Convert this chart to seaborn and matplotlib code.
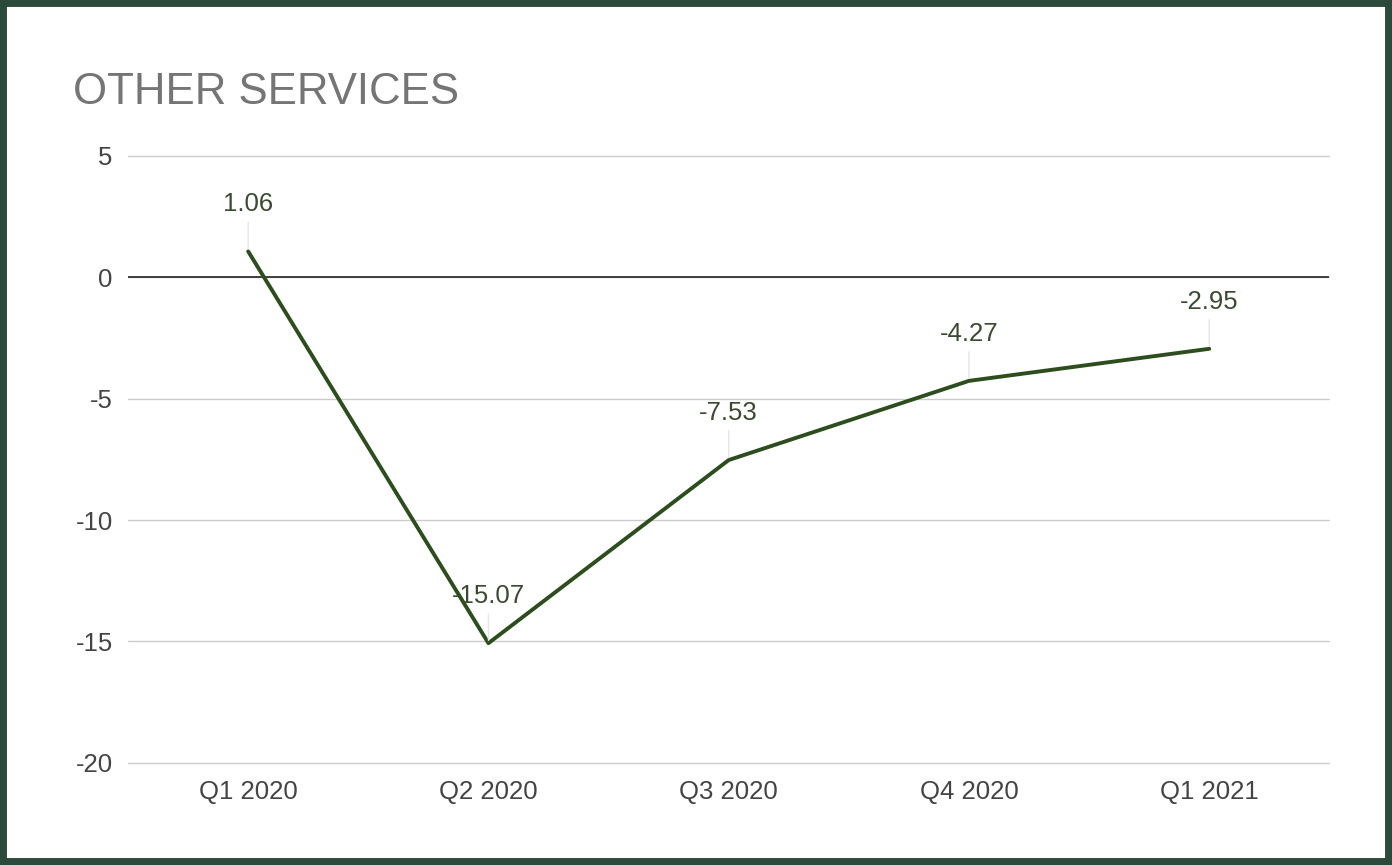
import matplotlib
matplotlib.use("Agg")
import matplotlib.pyplot as plt
import seaborn as sns
import pandas as pd
from matplotlib.patches import Rectangle

# data
quarters = ["Q1 2020", "Q2 2020", "Q3 2020", "Q4 2020", "Q1 2021"]
values = [1.06, -15.07, -7.53, -4.27, -2.95]
yticks = [5, 0, -5, -10, -15, -20]

df = pd.DataFrame({"quarter": quarters, "value": values})

sns.set_theme(style="white")
plt.rcParams["font.family"] = ["Liberation Sans", "DejaVu Sans"]
plt.rcParams["axes.unicode_minus"] = False

fig = plt.figure(figsize=(13.92, 8.65), dpi=100)
ax = fig.add_axes([0.092, 0.118, 0.863, 0.702])

# gridlines (not clipped so the edge ones show fully)
for t in yticks:
    ax.axhline(t, color="#cccccc", lw=1.0, zorder=0, clip_on=False)
ax.axhline(0, color="#333333", lw=1.3, zorder=1)

line_color = "#2e4d1f"
sns.lineplot(data=df, x="quarter", y="value", ax=ax, color=line_color,
             lw=2.8, sort=False, zorder=3)

# value labels with faint leader lines
for i, v in enumerate(values):
    ax.annotate(f"{v:.2f}", xy=(i, v), xytext=(0, 34), textcoords="offset points",
                ha="center", va="center", fontsize=18.5, color="#3b4a32",
                arrowprops=dict(arrowstyle="-", color="#e6e6e6", lw=1,
                                shrinkA=2, shrinkB=2), zorder=4)

ax.set_xlim(-0.5, len(quarters) - 0.5)
ax.set_ylim(-20, 5)
ax.set_yticks(yticks)
ax.set_xlabel("")
ax.set_ylabel("")
ax.tick_params(axis="both", length=0, labelsize=18.5, colors="#444444")
ax.tick_params(axis="y", pad=11)
ax.tick_params(axis="x", pad=12)
for s in ax.spines.values():
    s.set_visible(False)

fig.text(73 / 1392, 1 - 92 / 865, "OTHER SERVICES", fontsize=31.5, color="#757575",
         ha="left", va="center")

fig.patches.append(Rectangle((0, 0), 1, 1, transform=fig.transFigure, fill=False,
                             edgecolor="#2c4a3b", lw=10, zorder=10))

fig.savefig("out.png", dpi=100, facecolor="white")
